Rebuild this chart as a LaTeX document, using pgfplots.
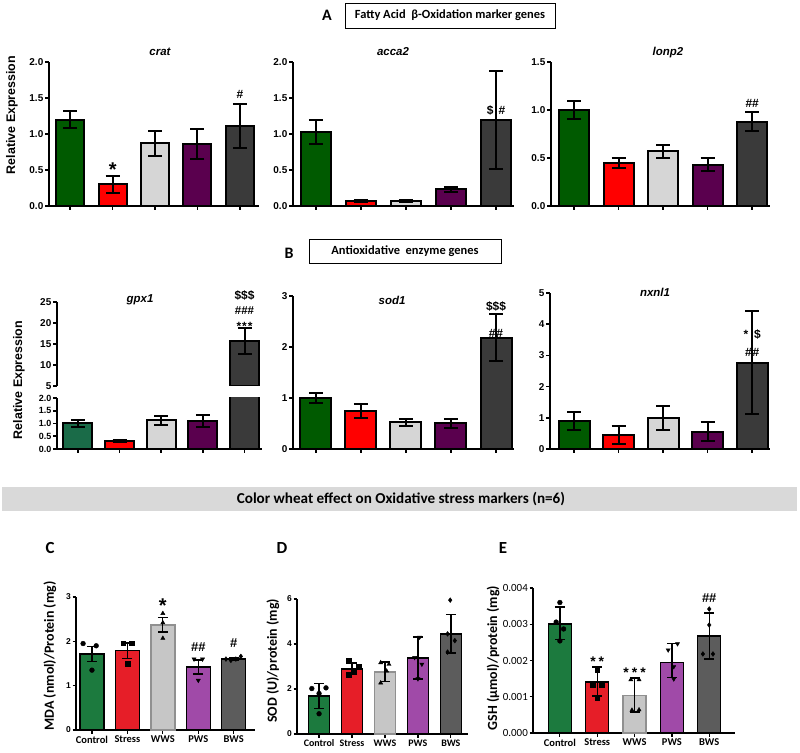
\documentclass[border=0pt]{standalone}
\usepackage{pgfplots}
\pgfplotsset{compat=1.18}
\usepackage{fontspec}
\setmainfont{Liberation Sans}
\newfontfamily\carl{Carlito}
\definecolor{agreen}{HTML}{005A00}
\definecolor{ared}{HTML}{FF0000}
\definecolor{agrey}{HTML}{D6D6D6}
\definecolor{apurple}{HTML}{5A004E}
\definecolor{adark}{HTML}{3A3A3A}
\definecolor{tgreen}{HTML}{1A6B48}
\definecolor{cgreen}{HTML}{1C7A3E}
\definecolor{cred}{HTML}{E61E28}
\definecolor{cgrey}{HTML}{C6C6C6}
\definecolor{cgreyedge}{HTML}{909090}
\definecolor{cpurple}{HTML}{A04AA8}
\definecolor{cdark}{HTML}{5C5C5C}
\definecolor{banner}{HTML}{D9D9D9}
\pgfplotsset{
 gax/.style={scale only axis, anchor=south west,
   axis lines*=left,
   axis line style={line width=2bp},
   every tick/.style={black, line width=1.6bp},
   tick align=outside, major tick length=4bp,
   xtick={0,1,2,3,4}, xticklabels={},
   ymin=0, clip mode=individual,
   yticklabel style={font=\bfseries\fontsize{10}{11}\selectfont, inner sep=1.5bp},
   /pgf/number format/assume math mode=true,
   scaled y ticks=false,
   yticklabel={\pgfmathprintnumber[fixed,fixed zerofill,precision=1]{\tick}}},
 gbar/.style={ybar, bar width=#1, bar shift=0pt, draw=black, line width=2bp,
   error bars/y dir=both, error bars/y explicit,
   error bars/error bar style={line width=2bp, black},
   error bars/error mark options={line width=2bp, black, mark size=7bp, rotate=90}},
 cax/.style={scale only axis, anchor=south west,
   axis lines*=left,
   axis line style={line width=1.4bp},
   every tick/.style={black, line width=1.2bp},
   tick align=outside, major tick length=3.5bp,
   xtick={0,1,2,3,4}, xticklabels={Control,Stress,WWS,PWS,BWS},
   xticklabel style={font=\carl\bfseries\fontsize{10.5}{11}\selectfont, inner sep=2bp},
   ymin=0, clip=false,
   yticklabel style={font=\bfseries\fontsize{8.5}{9}\selectfont, inner sep=1.5bp},
   /pgf/number format/assume math mode=true,
   scaled y ticks=false},
 cbar/.style={ybar, bar width=#1, bar shift=0pt, draw=black, line width=1.5bp,
   error bars/y dir=both, error bars/y explicit,
   error bars/error bar style={line width=1.3bp, black},
   error bars/error mark options={line width=1.3bp, black, mark size=5bp, rotate=90}},
 pts/.style={only marks, black, mark size=2.4bp, mark options={fill=black, solid}},
}
\newcommand{\an}[1]{\bfseries\fontsize{#1}{#1}\selectfont}
\begin{document}
\begin{tikzpicture}
\path[use as bounding box] (0,0) rectangle (800bp,753bp);
% ---------- headers ----------
\node[font=\carl\bfseries\fontsize{16}{18}\selectfont] at (327bp,738bp) {A};
\node[draw=black, line width=0.8bp, font=\carl\bfseries\fontsize{12.5}{14}\selectfont, minimum width=210bp, minimum height=25bp, inner sep=0pt] at (450bp,737.5bp) {Fatty Acid\ \ β-Oxidation marker genes};
\node[font=\carl\bfseries\fontsize{16}{18}\selectfont] at (289bp,500bp) {B};
\node[draw=black, line width=0.8bp, font=\carl\bfseries\fontsize{12.5}{14}\selectfont, minimum width=192bp, minimum height=24bp, inner sep=0pt] at (405bp,502bp) {Antioxidative\ \ enzyme genes};
\fill[banner] (2bp,242bp) rectangle (797bp,266bp);
\node[font=\carl\bfseries\fontsize{15.2}{16}\selectfont] at (401bp,254bp) {Color wheat effect on Oxidative stress markers (n=6)};
\node[font=\carl\bfseries\fontsize{17}{18}\selectfont] at (50bp,205bp) {C};
\node[font=\carl\bfseries\fontsize{17}{18}\selectfont] at (282bp,205bp) {D};
\node[font=\carl\bfseries\fontsize{17}{18}\selectfont] at (503bp,205bp) {E};
% y labels
\node[rotate=90, font=\bfseries\fontsize{12.5}{13}\selectfont] at (12bp,638bp) {Relative Expression};
\node[rotate=90, font=\bfseries\fontsize{12.5}{13}\selectfont] at (19bp,373bp) {Relative Expression};
\node[rotate=90, font=\carl\bfseries\fontsize{14}{15}\selectfont] at (50bp,97bp) {MDA (nmol)/Protein (mg)};
\node[rotate=90, font=\carl\bfseries\fontsize{14}{15}\selectfont] at (273bp,92bp) {SOD (U)/protein (mg)};
\node[rotate=90, font=\carl\bfseries\fontsize{14}{15}\selectfont] at (493bp,95bp) {GSH (μmol)/protein (mg)};
% gene titles
\node[font=\bfseries\itshape\fontsize{11.5}{12}\selectfont] at (160bp,701bp) {crat};
\node[font=\bfseries\itshape\fontsize{11.5}{12}\selectfont] at (393bp,701bp) {acca2};
\node[font=\bfseries\itshape\fontsize{11.5}{12}\selectfont] at (668bp,700bp) {lonp2};
\node[font=\bfseries\itshape\fontsize{11.5}{12}\selectfont] at (140bp,453bp) {gpx1};
\node[font=\bfseries\itshape\fontsize{11.5}{12}\selectfont] at (392bp,453bp) {sod1};
\node[font=\bfseries\itshape\fontsize{11.5}{12}\selectfont] at (655bp,461bp) {nxnl1};
% ---------- crat ----------
\begin{axis}[gax, at={(49bp,547bp)}, width=210bp, height=144bp, xmin=-0.5, xmax=4.45, ymax=2, ytick={0,0.5,1,1.5,2}]
\addplot[gbar=28bp, fill=agreen] coordinates {(0,1.2) +- (0,0.12)};
\addplot[gbar=28bp, fill=ared] coordinates {(1,0.3) +- (0,0.12)};
\addplot[gbar=28bp, fill=agrey] coordinates {(2,0.87) +- (0,0.17)};
\addplot[gbar=28bp, fill=apurple] coordinates {(3,0.86) +- (0,0.21)};
\addplot[gbar=28bp, fill=adark] coordinates {(4,1.11) +- (0,0.31)};
\node[font=\an{20}] at (axis cs:1,0.5) {*};
\node[font=\an{12}] at (axis cs:4,1.55) {\#};
\end{axis}
% ---------- acca2 ----------
\begin{axis}[gax, at={(293bp,547bp)}, width=221bp, height=144bp, xmin=-0.51, xmax=4.4, ymax=2, ytick={0,0.5,1,1.5,2}]
\addplot[gbar=30bp, fill=agreen] coordinates {(0,1.03) +- (0,0.17)};
\addplot[gbar=30bp, fill=ared] coordinates {(1,0.07) +- (0,0.02)};
\addplot[gbar=30bp, fill=agrey] coordinates {(2,0.07) +- (0,0.01)};
\addplot[gbar=30bp, fill=apurple] coordinates {(3,0.23) +- (0,0.03)};
\addplot[gbar=30bp, fill=adark] coordinates {(4,1.2) +- (0,0.68)};
\node[font=\an{12}] at (axis cs:4,1.33) {\$\hspace{5bp}\#};
\end{axis}
% ---------- lonp2 ----------
\begin{axis}[gax, at={(551bp,547bp)}, width=219bp, height=144bp, xmin=-0.52, xmax=4.4, ymax=1.5, ytick={0,0.5,1,1.5}]
\addplot[gbar=30bp, fill=agreen] coordinates {(0,1.0) +- (0,0.09)};
\addplot[gbar=30bp, fill=ared] coordinates {(1,0.45) +- (0,0.055)};
\addplot[gbar=30bp, fill=agrey] coordinates {(2,0.57) +- (0,0.07)};
\addplot[gbar=30bp, fill=apurple] coordinates {(3,0.43) +- (0,0.065)};
\addplot[gbar=30bp, fill=adark] coordinates {(4,0.88) +- (0,0.1)};
\node[font=\an{12}] at (axis cs:4,1.07) {\#\#};
\end{axis}
% ---------- gpx1 lower ----------
\begin{axis}[gax, at={(57bp,304bp)}, width=205bp, height=51bp, xmin=-0.5, xmax=4.42, ymax=2, ytick={0,0.5,1,1.5,2}, yticklabel style={font=\bfseries\fontsize{9}{9}\selectfont}]
\addplot[gbar=29bp, fill=tgreen] coordinates {(0,1.0) +- (0,0.15)};
\addplot[gbar=29bp, fill=ared] coordinates {(1,0.32) +- (0,0.05)};
\addplot[gbar=29bp, fill=agrey] coordinates {(2,1.12) +- (0,0.18)};
\addplot[gbar=29bp, fill=apurple] coordinates {(3,1.1) +- (0,0.25)};
\addplot[gbar=29bp, fill=adark] coordinates {(4,15.7) +- (0,3.1)};
\end{axis}
% ---------- gpx1 upper ----------
\begin{axis}[gax, at={(57bp,367bp)}, width=205bp, height=84bp, xmin=-0.5, xmax=4.42, ymin=5, ymax=25, ytick={5,10,15,20,25}, axis x line=none, axis y line*=left, yticklabel={\pgfmathprintnumber[fixed,precision=0]{\tick}}]
\addplot[gbar=29bp, fill=adark] coordinates {(4,15.7) +- (0,3.1)};
\node[font=\an{12}, inner sep=0pt] at (axis cs:4,19.3) {*\kern1pt*\kern1pt*};
\node[font=\an{11.5}, inner sep=0pt] at (axis cs:4,22.9) {\#\#\#};
\node[font=\an{12}, inner sep=0pt] at (axis cs:4,26.6) {\$\$\$};
\end{axis}
% ---------- sod1 ----------
\begin{axis}[gax, at={(293bp,304bp)}, width=221bp, height=153bp, xmin=-0.51, xmax=4.4, ymax=3, ytick={0,1,2,3}, yticklabel={\pgfmathprintnumber[fixed,precision=0]{\tick}}]
\addplot[gbar=31bp, fill=agreen] coordinates {(0,1.0) +- (0,0.1)};
\addplot[gbar=31bp, fill=ared] coordinates {(1,0.75) +- (0,0.14)};
\addplot[gbar=31bp, fill=agrey] coordinates {(2,0.52) +- (0,0.06)};
\addplot[gbar=31bp, fill=apurple] coordinates {(3,0.5) +- (0,0.08)};
\addplot[gbar=31bp, fill=adark] coordinates {(4,2.18) +- (0,0.46)};
\node[font=\an{12}] at (axis cs:4,2.27) {\#\hspace{1bp}\#};
\node[font=\an{12}] at (axis cs:4,2.8) {\$\$\$};
\end{axis}
% ---------- nxnl1 ----------
\begin{axis}[gax, at={(550bp,304bp)}, width=220bp, height=156bp, xmin=-0.54, xmax=4.4, ymax=5, ytick={0,1,2,3,4,5}, yticklabel={\pgfmathprintnumber[fixed,precision=0]{\tick}}]
\addplot[gbar=31bp, fill=agreen] coordinates {(0,0.9) +- (0,0.28)};
\addplot[gbar=31bp, fill=ared] coordinates {(1,0.45) +- (0,0.3)};
\addplot[gbar=31bp, fill=agrey] coordinates {(2,1.0) +- (0,0.38)};
\addplot[gbar=31bp, fill=apurple] coordinates {(3,0.55) +- (0,0.3)};
\addplot[gbar=31bp, fill=adark] coordinates {(4,2.77) +- (0,1.65)};
\node[font=\an{12}] at (axis cs:4,3.68) {*\hspace{6bp}\$};
\node[font=\an{12}] at (axis cs:4,3.1) {\#\hspace{1bp}\#};
\end{axis}
% ---------- C ----------
\begin{axis}[cax, at={(76bp,23bp)}, width=179bp, height=133bp, xmin=-0.45, xmax=4.6, ymax=3, ytick={0,1,2,3}]
\addplot[cbar=24bp, fill=cgreen] coordinates {(0,1.71) +- (0,0.17)};
\addplot[cbar=24bp, fill=cred] coordinates {(1,1.79) +- (0,0.17)};
\addplot[cbar=24bp, fill=cgrey, draw=cgreyedge] coordinates {(2,2.37) +- (0,0.16)};
\addplot[cbar=24bp, fill=cpurple] coordinates {(3,1.42) +- (0,0.16)};
\addplot[cbar=24bp, fill=cdark] coordinates {(4,1.6) +- (0,0.03)};
\addplot[pts, mark=*] coordinates {(-0.25,1.95) (0.12,1.9) (0,1.35)};
\addplot[pts, mark=square*] coordinates {(0.88,1.96) (1.12,1.96) (1,1.49)};
\addplot[pts, mark=triangle*] coordinates {(2,2.63) (2,2.42) (2,2.07)};
\addplot[pts, mark=triangle*, mark options={rotate=180}] coordinates {(2.88,1.6) (3.12,1.6) (3,1.12)};
\addplot[pts, mark=diamond*] coordinates {(3.78,1.6) (3.92,1.57) (4.06,1.6) (4.2,1.66)};
\node[font=\an{20}] at (axis cs:2,2.8) {*};
\node[font=\an{13}] at (axis cs:3,1.86) {\#\#};
\node[font=\an{13}] at (axis cs:4,1.95) {\#};
\end{axis}
% ---------- D ----------
\begin{axis}[cax, at={(297bp,19bp)}, width=171bp, height=135bp, xmin=-0.67, xmax=4.52, ymax=6, ytick={0,2,4,6}, xticklabel style={font=\carl\bfseries\fontsize{10}{11}\selectfont}]
\addplot[cbar=21bp, fill=cgreen] coordinates {(0,1.68) +- (0,0.56)};
\addplot[cbar=21bp, fill=cred] coordinates {(1,2.89) += (0,0.27) -= (0,0.22)};
\addplot[cbar=21bp, fill=cgrey, draw=cgreyedge] coordinates {(2,2.76) +- (0,0.44)};
\addplot[cbar=21bp, fill=cpurple] coordinates {(3,3.38) +- (0,0.93)};
\addplot[cbar=21bp, fill=cdark] coordinates {(4,4.45) +- (0,0.85)};
\addplot[pts, mark=*] coordinates {(-0.22,2.02) (0.21,2.05) (0,1.8) (0,0.9)};
\addplot[pts, mark=square*] coordinates {(0.89,3.27) (0.89,2.62) (1.06,2.8) (1.21,2.98)};
\addplot[pts, mark=triangle*] coordinates {(1.87,3.17) (2.12,3.1) (1.87,2.27) (2.05,2.8)};
\addplot[pts, mark=triangle*, mark options={rotate=180}] coordinates {(3.05,4.3) (2.9,3.4) (3.12,3.1) (3.0,2.45)};
\addplot[pts, mark=diamond*] coordinates {(3.98,5.95) (3.9,4.45) (4.12,4.15) (3.9,3.64)};
\end{axis}
% ---------- E ----------
\begin{axis}[cax, at={(533bp,20bp)}, width=202bp, height=145bp, xmin=-0.72, xmax=4.69, ymax=0.004, ytick={0,0.001,0.002,0.003,0.004}, yticklabel style={font=\carl\fontsize{11}{11}\selectfont}, yticklabel={\pgfmathprintnumber[fixed,fixed zerofill,precision=3]{\tick}}]
\addplot[cbar=23bp, fill=cgreen] coordinates {(0,0.00301) += (0,0.00047) -= (0,0.00044)};
\addplot[cbar=23bp, fill=cred] coordinates {(1,0.00141) += (0,0.00041) -= (0,0.00039)};
\addplot[cbar=23bp, fill=cgrey, draw=cgreyedge] coordinates {(2,0.00103) += (0,0.00049) -= (0,0.00045)};
\addplot[cbar=23bp, fill=cpurple] coordinates {(3,0.00195) += (0,0.00051) -= (0,0.00041)};
\addplot[cbar=23bp, fill=cdark] coordinates {(4,0.00268) += (0,0.00063) -= (0,0.00064)};
\addplot[pts, mark=*] coordinates {(0,0.0036) (-0.1,0.00306) (0.1,0.00287) (0,0.00254)};
\addplot[pts, mark=square*] coordinates {(1,0.00174) (0.88,0.00132) (1.12,0.00132) (1,0.00097)};
\addplot[pts, mark=triangle*] coordinates {(1.9,0.00147) (2.12,0.00147) (1.93,0.00063) (2.12,0.00064)};
\addplot[pts, mark=triangle*, mark options={rotate=180}] coordinates {(2.9,0.00229) (3.15,0.00246) (3.05,0.00183) (3.05,0.00149)};
\addplot[pts, mark=diamond*] coordinates {(4,0.00342) (4,0.00298) (3.83,0.00218) (4.1,0.00218)};
\node[font=\an{14}] at (axis cs:1,0.00197) {*\hspace{3bp}*};
\node[font=\an{14}] at (axis cs:2,0.00167) {*\hspace{3bp}*\hspace{3bp}*};
\node[font=\an{13}] at (axis cs:4,0.00372) {\#\#};
\end{axis}
\end{tikzpicture}
\end{document}
